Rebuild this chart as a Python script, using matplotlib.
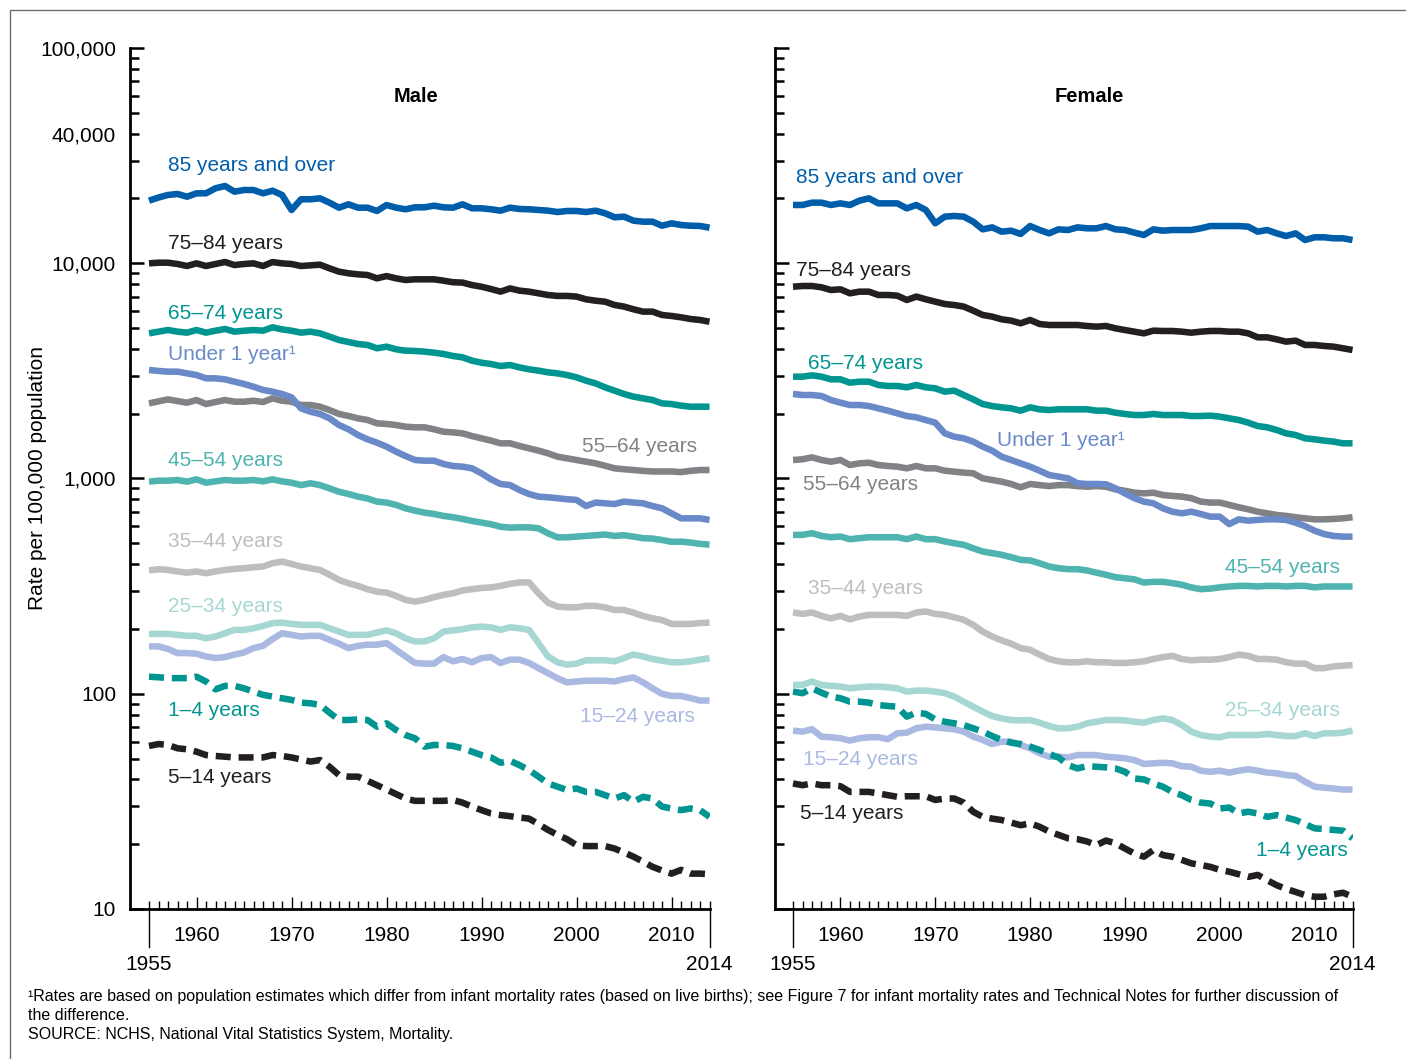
import matplotlib
matplotlib.use("Agg")
import matplotlib.pyplot as plt
import matplotlib.transforms as mtransforms
from matplotlib.patches import Rectangle
from matplotlib.ticker import FixedLocator, FuncFormatter

plt.rcParams["font.family"] = ["Liberation Sans", "DejaVu Sans"]

# ---------------------------------------------------------------------
# Data: death rates per 100,000 population, 1955-2014
# ---------------------------------------------------------------------
years = list(range(1955, 2015))

male_85_over = [
    19530, 20200, 20760, 20980, 20380, 21130, 21130, 22300, 22850, 21500,
    21890, 21890, 21130, 21730, 20760, 17680, 19820, 19820, 20030, 19110,
    18120, 18790, 18120, 18120, 17490, 18650, 18120, 17810, 18190, 18190,
    18510, 18190, 18120, 18790, 18000, 18000, 17810, 17550, 18120, 17870,
    17810, 17680, 17550, 17300, 17490, 17490, 17300, 17550, 17070, 16350,
    16460, 15770, 15600, 15600, 14940, 15330, 15060, 14940, 14900, 14630,
]
male_75_84 = [
    9990, 10060, 10060, 9920, 9710, 9990, 9710, 9920, 10130, 9810,
    9920, 9990, 9710, 10130, 9990, 9920, 9710, 9780, 9850, 9470,
    9140, 8980, 8880, 8820, 8510, 8720, 8510, 8360, 8420, 8420,
    8420, 8300, 8160, 8130, 7920, 7780, 7590, 7380, 7640, 7460,
    7380, 7250, 7120, 7050, 7050, 7000, 6800, 6700, 6630, 6400,
    6290, 6110, 5960, 5960, 5750, 5690, 5610, 5510, 5450, 5350,
]
male_65_74 = [
    4725, 4810, 4895, 4810, 4760, 4895, 4760, 4860, 4950, 4810,
    4860, 4895, 4860, 5040, 4930, 4860, 4760, 4810, 4725, 4560,
    4400, 4306, 4216, 4172, 4026, 4098, 3982, 3926, 3912, 3884,
    3842, 3788, 3708, 3655, 3527, 3451, 3403, 3330, 3366, 3283,
    3215, 3170, 3113, 3080, 3025, 2951, 2848, 2767, 2652, 2559,
    2469, 2400, 2357, 2315, 2234, 2218, 2180, 2156, 2156, 2156,
]
male_under_1 = [
    3192, 3160, 3136, 3136, 3080, 3025, 2920, 2920, 2888, 2817,
    2748, 2670, 2577, 2532, 2469, 2383, 2117, 2043, 1994, 1903,
    1772, 1692, 1592, 1521, 1467, 1406, 1333, 1272, 1219, 1210,
    1210, 1168, 1143, 1135, 1115, 1057, 991, 943, 932, 884,
    847, 824, 818, 810, 801, 795, 745, 773, 767, 761,
    781, 773, 767, 745, 727, 689, 653, 653, 653, 642,
]
male_55_64 = [
    2234, 2282, 2331, 2290, 2250, 2315, 2218, 2266, 2315, 2274,
    2274, 2298, 2266, 2357, 2298, 2274, 2195, 2195, 2156, 2080,
    1994, 1952, 1903, 1870, 1804, 1792, 1772, 1741, 1729, 1729,
    1692, 1650, 1638, 1621, 1575, 1537, 1500, 1457, 1457, 1416,
    1381, 1347, 1309, 1263, 1241, 1219, 1197, 1176, 1146, 1115,
    1104, 1095, 1085, 1078, 1078, 1078, 1071, 1085, 1095, 1095,
]
male_45_54 = [
    967, 977, 977, 984, 967, 991, 956, 970, 984, 977,
    977, 984, 970, 991, 970, 956, 932, 950, 932, 900,
    868, 847, 824, 807, 781, 773, 754, 727, 709, 694,
    684, 670, 661, 649, 635, 624, 613, 597, 591, 593,
    593, 587, 556, 533, 533, 537, 541, 545, 549, 541,
    545, 537, 528, 526, 518, 508, 509, 504, 497, 493,
]
male_35_44 = [
    374, 379, 376, 370, 365, 370, 363, 370, 376, 380,
    383, 387, 390, 404, 411, 401, 390, 383, 376, 357,
    338, 326, 317, 306, 298, 295, 285, 273, 268, 273,
    281, 288, 293, 302, 306, 310, 312, 317, 324, 329,
    329, 293, 265, 254, 252, 252, 256, 256, 252, 245,
    245, 238, 230, 224, 220, 211, 211, 211, 213, 214,
]
male_25_34 = [
    189.7, 189.7, 189.7, 187.7, 186, 185.8, 181, 184.5, 191, 198,
    198, 201.5, 206.5, 213, 214, 211, 209, 209, 209, 201.5,
    194.5, 187.7, 187.7, 187.7, 192.5, 197, 191, 181, 175, 175,
    181, 194.5, 197, 199.5, 203.5, 205, 203.5, 198, 203.5, 201.5,
    198, 172, 149, 140, 136.5, 138, 143, 143, 143, 141.5,
    146.5, 152, 149, 145, 142.5, 140, 140, 141.5, 144, 146.5,
]
male_15_24 = [
    166, 166, 161.5, 154.5, 154.5, 153.5, 149, 146.5, 148, 152,
    155.5, 163, 167, 179.5, 191, 187.7, 184.5, 185.8, 185.8, 178,
    170.8, 163, 167, 169, 169, 172, 160, 149, 139, 138,
    138, 148, 141.5, 145, 140, 146.5, 148, 139, 144, 144,
    139, 131.5, 124.6, 118, 113, 114, 115, 115, 115, 114,
    117, 119, 113, 106, 99.9, 97.7, 97.7, 95.4, 93, 93,
]
male_1_4 = [
    120, 119.3, 118.2, 118.2, 118.2, 120, 114, 104.8, 108.8, 108.8,
    106, 102.3, 98.8, 97, 95.3, 93.6, 90.9, 90.3, 88.7, 81.7,
    75.5, 75.5, 76, 75.5, 70.3, 72.9, 67.9, 64.3, 62.1, 56.8,
    57.8, 57.8, 57.2, 55.8, 53.8, 51.9, 50.6, 47.8, 48.8, 46.6,
    44.2, 41.2, 38.3, 37, 35.7, 36.3, 35, 35, 33.8, 32.6,
    33.8, 31.5, 33.2, 32.6, 29.9, 29.3, 28.8, 29.3, 28.8, 26.8,
]
male_5_14 = [
    57.2, 58.4, 57.8, 55.8, 55.2, 53.8, 51.9, 51.4, 51, 50.6,
    50.6, 50.6, 50.6, 51.9, 51.4, 50.6, 49.5, 48.4, 49.2, 45.8,
    41.9, 41.2, 41.2, 39.4, 37.6, 35.9, 34.2, 32.6, 31.8, 31.8,
    31.8, 31.8, 32.1, 31.2, 29.9, 28.8, 27.8, 27.3, 27, 26.6,
    26.3, 24.8, 23.3, 22.1, 21.1, 19.8, 19.6, 19.6, 19.6, 19.1,
    18.3, 17.5, 16.6, 15.7, 15.1, 14.6, 15.2, 14.6, 14.6, 14.5,
]

female_85_over = [
    18650, 18650, 19120, 19120, 18650, 18980, 18650, 19530, 20030, 18980,
    18980, 18980, 17990, 18650, 17680, 15330, 16460, 16580, 16460, 15600,
    14370, 14680, 14020, 14170, 13680, 14890, 14270, 13770, 14370, 14270,
    14680, 14530, 14530, 14890, 14370, 14270, 13870, 13530, 14370, 14170,
    14270, 14270, 14270, 14530, 14890, 14890, 14890, 14890, 14790, 14020,
    14270, 13770, 13380, 13770, 12820, 13200, 13200, 13060, 13060, 12820,
]
female_75_84 = [
    7780, 7840, 7840, 7730, 7510, 7567, 7250, 7380, 7380, 7120,
    7120, 7070, 6750, 7000, 6800, 6630, 6466, 6397, 6290, 6024,
    5751, 5650, 5490, 5412, 5260, 5450, 5222, 5166, 5166, 5166,
    5166, 5111, 5075, 5111, 4985, 4895, 4810, 4725, 4862, 4845,
    4845, 4810, 4758, 4810, 4845, 4845, 4810, 4810, 4725, 4527,
    4527, 4431, 4323, 4369, 4172, 4172, 4127, 4098, 4026, 3954,
]
female_65_74 = [
    2972, 2972, 3015, 2972, 2889, 2889, 2787, 2817, 2817, 2719,
    2690, 2690, 2652, 2719, 2652, 2624, 2532, 2559, 2443, 2332,
    2218, 2171, 2141, 2118, 2066, 2141, 2096, 2080, 2096, 2096,
    2096, 2096, 2066, 2066, 2022, 1994, 1972, 1972, 1994, 1972,
    1972, 1972, 1951, 1951, 1958, 1938, 1903, 1870, 1817, 1753,
    1729, 1680, 1621, 1592, 1537, 1521, 1500, 1484, 1457, 1457,
]
female_under_1 = [
    2470, 2443, 2443, 2417, 2315, 2250, 2195, 2195, 2171, 2118,
    2066, 2008, 1951, 1924, 1870, 1817, 1621, 1564, 1537, 1484,
    1406, 1347, 1263, 1219, 1176, 1135, 1087, 1038, 1020, 1002,
    950, 943, 943, 940, 900, 853, 810, 781, 767, 727,
    701, 689, 701, 684, 665, 665, 614, 646, 637, 642,
    646, 646, 642, 623, 601, 572, 552, 541, 537, 537,
]
female_55_64 = [
    1219, 1228, 1254, 1219, 1197, 1219, 1155, 1176, 1184, 1155,
    1143, 1135, 1115, 1143, 1115, 1115, 1087, 1076, 1065, 1057,
    1002, 984, 967, 943, 910, 943, 932, 922, 932, 932,
    922, 916, 922, 916, 890, 877, 859, 853, 859, 838,
    830, 824, 810, 781, 773, 773, 754, 735, 719, 701,
    689, 677, 670, 661, 653, 646, 646, 649, 653, 661,
]
female_45_54 = [
    547, 547, 557, 541, 533.5, 537.5, 522.5, 528, 533.5, 533.5,
    533.5, 533.5, 522.5, 537.5, 522.5, 522.5, 510, 500.5, 492, 474,
    458, 450, 442, 431, 419, 416, 404, 390, 383, 379,
    379, 374, 365, 357, 348, 344, 340, 328.5, 331, 331,
    326.5, 321, 312, 306, 308, 312, 315, 317, 317, 315,
    317, 317, 315, 317, 317, 312, 315, 315, 315, 315,
]
female_35_44 = [
    238.5, 235, 238.5, 230, 224, 230, 221.5, 228.5, 232.5, 232.5,
    232.5, 232.5, 230, 238.5, 241, 235, 232.5, 226.5, 220.5, 209,
    194.5, 184.5, 177, 170.8, 163, 160, 152, 145, 141.5, 140,
    140, 141.5, 140, 140, 139, 139, 140, 141.5, 145, 148,
    150, 145, 143, 144, 144, 145, 148, 152, 150, 145,
    145, 144, 140, 138, 138, 131.5, 131.5, 134, 135, 136,
]
female_25_34 = [
    110, 110, 114, 110, 108.8, 108, 106, 107.2, 108, 108,
    107.2, 106, 102.3, 103.4, 103.4, 102.3, 100.6, 97, 91.9, 87.1,
    82.6, 78.8, 76.8, 75.5, 75.2, 75.5, 73.4, 70.8, 69.1, 69.1,
    70.3, 72.9, 74.1, 75.5, 75.5, 75.2, 74.1, 73.4, 75.5, 76.8,
    75.5, 71.5, 66.7, 64.3, 63.2, 62.8, 64.3, 64.3, 64.3, 64.3,
    65, 64.3, 63.6, 63.6, 65.5, 63.6, 65.5, 65.5, 66, 67.4,
]
female_15_24 = [
    67.4, 66.7, 68.4, 63.2, 62.8, 62.1, 60.6, 62.1, 62.8, 62.8,
    61.5, 65.5, 66, 69.1, 70.3, 69.8, 69.1, 68.4, 66.7, 63.2,
    61, 58.4, 59.9, 59.9, 57.8, 55.8, 52.9, 51, 51, 50.6,
    51.9, 51.9, 51.9, 51, 50.6, 50.1, 49.2, 47.2, 47.5, 47.8,
    47.5, 46.1, 45.8, 43.9, 43.4, 43.9, 43, 43.9, 44.6, 43.9,
    43, 42.7, 41.9, 41.5, 39, 37, 36.6, 36.3, 35.9, 35.9,
]
female_1_4 = [
    102.3, 100.6, 106, 101.2, 97, 95.3, 91.9, 91.9, 90.9, 88.7,
    87.7, 87.1, 78.3, 81.7, 80.6, 76, 74.1, 72.9, 71.5, 69.1,
    66.7, 63.6, 61, 59.2, 58.4, 56.8, 54.8, 52.5, 50.6, 46.6,
    45, 46.1, 45.8, 45.5, 45, 43.4, 40.4, 40, 38.3, 37,
    35, 33.8, 32.1, 31.2, 30.9, 29.3, 29.6, 27.8, 28.3, 27.8,
    26.8, 27.3, 26.6, 25.9, 24.8, 23.7, 23.5, 23.3, 23.1, 21.3,
]
female_5_14 = [
    38.3, 37.6, 38.3, 37.6, 37.6, 37.2, 35, 35, 35, 34.4,
    33.8, 33.2, 33.4, 33.4, 33.4, 32.1, 32.6, 32.6, 31.2, 28.3,
    26.8, 26.3, 25.9, 25.2, 24.5, 25, 24.1, 22.9, 22.1, 21.3,
    21.1, 20.6, 19.8, 20.8, 20.2, 19.1, 18.1, 17.5, 18.8, 17.8,
    17.5, 16.9, 16.3, 16, 15.7, 15.2, 14.9, 14.5, 14.1, 14.4,
    13.6, 12.9, 12.4, 12, 11.6, 11.4, 11.4, 11.7, 11.9, 11.4,
]

# ---------------------------------------------------------------------
# Styling
# ---------------------------------------------------------------------
BLUE = "#005daa"
BLACK = "#231f20"
TEAL = "#009590"
UNDER1 = "#6a89c9"
GRAY = "#808285"
TEAL_MID = "#4fb4b0"
GRAY_LIGHT = "#bcbec0"
TEAL_PALE = "#a6d7d3"
LAVENDER = "#aab9e2"

# (male data, female data, colour, dashed)
SERIES = [
    (male_85_over, female_85_over, BLUE, False),
    (male_75_84, female_75_84, BLACK, False),
    (male_65_74, female_65_74, TEAL, False),
    (male_55_64, female_55_64, GRAY, False),
    (male_under_1, female_under_1, UNDER1, False),
    (male_45_54, female_45_54, TEAL_MID, False),
    (male_35_44, female_35_44, GRAY_LIGHT, False),
    (male_25_34, female_25_34, TEAL_PALE, False),
    (male_15_24, female_15_24, LAVENDER, False),
    (male_5_14, female_5_14, BLACK, True),
    (male_1_4, female_1_4, TEAL, True),
]

# label text, colour, (x, y, ha) for male and female panels
LABELS = [
    ("85 years and over", BLUE, (1957.0, 28600, "left"), (1955.3, 24900, "left")),
    ("75\u201384 years", BLACK, (1957.0, 12290, "left"), (1955.3, 9300, "left")),
    ("65\u201374 years", TEAL, (1957.0, 5870, "left"), (1956.6, 3440, "left")),
    ("Under 1 year\u00b9", UNDER1, (1957.0, 3750, "left"), (1976.5, 1494, "left")),
    ("55\u201364 years", GRAY, (2012.7, 1401, "right"), (1956.1, 933, "left")),
    ("45\u201354 years", TEAL_MID, (1957.0, 1206, "left"), (2012.7, 384, "right")),
    ("35\u201344 years", GRAY_LIGHT, (1957.0, 507, "left"), (1956.6, 307, "left")),
    ("25\u201334 years", TEAL_PALE, (1957.0, 253, "left"), (2012.7, 83.2, "right")),
    ("15\u201324 years", LAVENDER, (2012.5, 78, "right"), (1956.0, 49.7, "left")),
    ("1\u20134 years", TEAL, (1957.0, 83.2, "left"), (2013.5, 18.6, "right")),
    ("5\u201314 years", BLACK, (1957.0, 41.0, "left"), (1955.7, 27.9, "left")),
]

W, H = 1406, 1059


def style_axis(ax, x_left, show_ylabels):
    ax.set_yscale("log")
    ax.set_ylim(10, 100000)
    ax.set_xlim(x_left, 2014.05)
    for side in ("top", "right"):
        ax.spines[side].set_visible(False)
    for side in ("left", "bottom"):
        ax.spines[side].set_linewidth(2.0)
        ax.spines[side].set_color("black")

    ax.yaxis.set_major_locator(FixedLocator([10, 100, 1000, 10000, 100000]))
    minors = [k * 10 ** n for n in range(1, 5) for k in range(2, 10)]
    ax.yaxis.set_minor_locator(FixedLocator(minors))
    if show_ylabels:
        ax.yaxis.set_major_formatter(FuncFormatter(lambda v, _: f"{int(v):,}"))
        ax.yaxis.set_minor_formatter(
            FuncFormatter(lambda v, _: "40,000" if abs(v - 40000) < 1 else "")
        )
    else:
        ax.yaxis.set_major_formatter(FuncFormatter(lambda v, _: ""))
        ax.yaxis.set_minor_formatter(FuncFormatter(lambda v, _: ""))
    ax.tick_params(axis="y", which="major", direction="in", length=10, width=1.8,
                   labelsize=15, pad=10)
    ax.tick_params(axis="y", which="minor", direction="in", length=6.5, width=1.8,
                   labelsize=15, pad=10)

    ax.xaxis.set_major_locator(FixedLocator(list(range(1960, 2011, 10))))
    ax.xaxis.set_minor_locator(FixedLocator([y for y in years if y % 10 != 0]))
    ax.xaxis.set_major_formatter(FuncFormatter(lambda v, _: f"{int(v)}"))
    ax.tick_params(axis="x", which="major", direction="in", length=8.5, width=1.0,
                   labelsize=15, pad=12)
    ax.tick_params(axis="x", which="minor", direction="in", length=5.5, width=1.0)

    trans = mtransforms.blended_transform_factory(ax.transData, ax.transAxes)
    for yr in (1955, 2014):
        ax.plot([yr, yr], [0, -38 / 861], transform=trans, clip_on=False,
                color="black", lw=1.0)
        ax.text(yr, -55 / 861, str(yr), transform=trans, ha="center", va="center",
                fontsize=15)


fig = plt.figure(figsize=(W / 100, H / 100), dpi=100)
ax_m = fig.add_axes([130 / W, 150 / H, 580 / W, 861 / H])
ax_f = fig.add_axes([775 / W, 150 / H, 578 / W, 861 / H])

style_axis(ax_m, 1953.0, True)
style_axis(ax_f, 1953.1, False)

for male, female, color, dashed in SERIES:
    for ax, vals in ((ax_m, male), (ax_f, female)):
        kw = dict(color=color, lw=4.7, solid_capstyle="butt", solid_joinstyle="round")
        if dashed:
            kw.update(dashes=(2.3, 1.2), dash_capstyle="butt")
        ax.plot(years, vals, **kw)

for text, color, m_pos, f_pos in LABELS:
    for ax, (x, y, ha) in ((ax_m, m_pos), (ax_f, f_pos)):
        ax.text(x, y, text, color=color, fontsize=15, ha=ha, va="center")

fig.text(416 / W, 1 - 96 / H, "Male", ha="center", va="center", fontsize=14.5,
         weight="bold")
fig.text(1089 / W, 1 - 96 / H, "Female", ha="center", va="center", fontsize=14.5,
         weight="bold")
fig.text(38 / W, 1 - 478 / H, "Rate per 100,000 population", rotation=90,
         ha="center", va="center", fontsize=15)

notes = [
    "\u00b9Rates are based on population estimates which differ from infant mortality "
    "rates (based on live births); see Figure 7 for infant mortality rates and "
    "Technical Notes for further discussion of",
    "the difference.",
    "SOURCE: NCHS, National Vital Statistics System, Mortality.",
]
for i, line in enumerate(notes):
    fig.text(28 / W, 1 - (997 + 18.5 * i) / H, line, ha="left", va="center",
             fontsize=11.55)

fig.patches.append(Rectangle((10 / W, -0.02), 1.0, 1 - 10 / H + 0.02,
                             transform=fig.transFigure, fill=False,
                             edgecolor="#6d6e71", lw=1.0))

fig.savefig("out.png", dpi=100)
